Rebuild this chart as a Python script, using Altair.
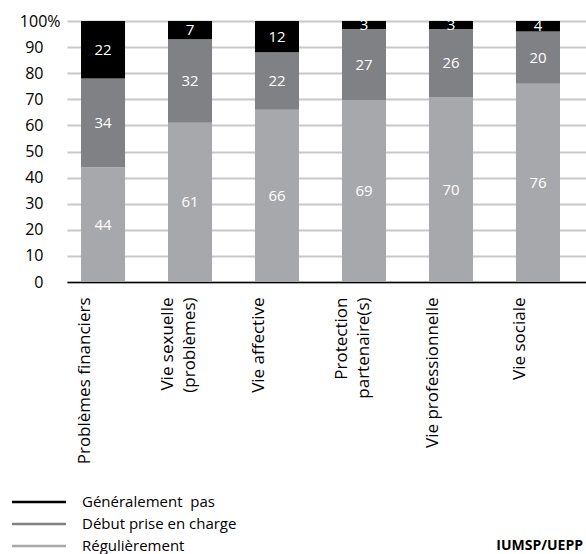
import altair as alt
import pandas as pd

# Categories along the x axis ("\n" marks a line break in the label)
categories = [
    "Problèmes financiers",
    "Vie sexuelle\n(problèmes)",
    "Vie affective",
    "Protection\npartenaire(s)",
    "Vie professionnelle",
    "Vie sociale",
]

# Series, listed top to bottom as in the legend
series = ["Généralement\u00a0 pas", "Début prise en charge", "Régulièrement"]
series_colors = ["#000000", "#808185", "#a7a8ab"]

# Percentages per category
generalement_pas = [22, 7, 12, 3, 3, 4]
debut_prise_en_charge = [34, 32, 22, 27, 26, 20]
regulierement = [44, 61, 66, 69, 70, 76]

y_ticks = list(range(0, 101, 10))
source_note = ["IUMSP/UEPP"]

rows = []
for i, cat in enumerate(categories):
    for s, vals, order in (
        (series[2], regulierement, 0),
        (series[1], debut_prise_en_charge, 1),
        (series[0], generalement_pas, 2),
    ):
        rows.append({"cat": cat, "series": s, "value": vals[i], "ord": order})
df = pd.DataFrame(rows)

FONT = "Open Sans"

base = (
    alt.Chart(df)
    .transform_stack(
        stack="value",
        groupby=["cat"],
        as_=["v0", "v1"],
        offset="normalize",
        sort=[alt.SortField("ord", order="ascending")],
    )
    .transform_calculate(
        y0="datum.v0 * 100",
        y1="datum.v1 * 100",
        ym="(datum.v0 + datum.v1) * 50",
    )
)

x_axis = alt.Axis(
    title=None,
    labelAngle=270,
    labelAlign="right",
    labelBaseline="top",
    labelExpr="split(datum.label, '\\n')",
    labelOffset={"condition": {"test": "indexof(datum.value, '\\n') >= 0", "value": -30}, "value": -26},
    labelPadding=15,
    labelFont=FONT,
    labelFontSize=17,
    labelLineHeight=22,
    labelColor="black",
    labelLimit=400,
    ticks=False,
    domain=True,
    domainColor="black",
    domainWidth=1.6,
    grid=False,
)

y_axis = alt.Axis(
    title=None,
    values=y_ticks,
    labelOverlap=False,
    labelExpr="datum.value == 100 ? '100%' : datum.label",
    labelPadding={"condition": {"test": "datum.value == 100", "value": 7}, "value": 24},
    labelFont=FONT,
    labelFontSize=16,
    labelColor="black",
    ticks=False,
    domain=False,
    grid=True,
    gridColor="#c8c8c8",
    gridWidth=2,
)

x_scale = alt.Scale(paddingInner=0.494, paddingOuter=0.23, align=0.35)
y_scale = alt.Scale(domain=[0, 100], nice=False)

bars = base.mark_bar().encode(
    x=alt.X("cat:N", sort=categories, scale=x_scale, axis=x_axis),
    y=alt.Y("y0:Q", scale=y_scale, axis=y_axis),
    y2="y1:Q",
    color=alt.Color(
        "series:N",
        scale=alt.Scale(domain=series, range=series_colors),
        legend=alt.Legend(
            title=None,
            orient="none",
            legendX=-65,
            legendY=471,
            padding=0,
            symbolType="M0,-0.12H5.4V0.12H0Z",
            symbolSize=400,
            symbolStrokeWidth=0,
            symbolOpacity=1,
            labelOffset=60,
            labelFont=FONT,
            labelFontSize=15,
            labelColor="black",
            labelLimit=400,
            rowPadding=4,
        ),
    ),
)

labels = base.mark_text(color="white", font=FONT, fontSize=15, baseline="middle").encode(
    x=alt.X("cat:N", sort=categories, scale=x_scale, axis=x_axis),
    y=alt.Y("ym:Q", scale=y_scale, axis=y_axis),
    text="value:Q",
)

# Source note in the lower right corner
note = (
    alt.Chart(pd.DataFrame({"note": source_note}))
    .mark_text(align="right", baseline="middle", font=FONT, fontSize=14, fontWeight="bold", color="black")
    .encode(x=alt.value(516), y=alt.value(525), text="note:N")
)

chart = (
    alt.layer(bars, labels, note)
    .properties(
        width=519,
        height=261,
        autosize=alt.AutoSizeParams(type="none"),
        padding={"left": 67, "top": 21, "right": 0, "bottom": 272},
    )
    .configure_view(stroke=None)
)

chart.save("out.html", embed_options={"renderer": "svg", "actions": False})
